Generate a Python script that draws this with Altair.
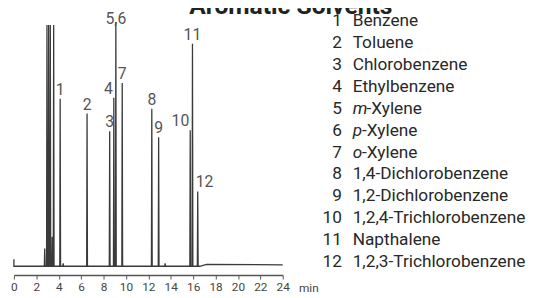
import altair as alt
import numpy as np
import pandas as pd

# ---- data ----
peak_labels = ["1", "2", "3", "4", "5,6", "7", "8", "9", "10", "11", "12"]
peak_times = [4.13, 6.53, 8.55, 8.92, 9.10, 9.67, 12.31, 12.92, 15.74, 15.94, 16.41]
peak_heights = [170, 155, 137, 171, 248, 186, 160, 131, 138, 226, 76]
label_side = ["c", "c", "c", "l", "top", "c", "c", "c", "l", "c", "r"]

other_times = [2.75, 2.95, 3.10, 3.25, 3.42, 3.55, 4.40, 13.50]
other_heights = [18, 245, 245, 245, 30, 245, 3, 3]

baseline_times = [0, 16.6, 17.2, 24]
baseline_levels = [0, 0, 2, 1.5]

x_ticks = list(range(0, 25, 2))

legend_nums = [str(i) for i in range(1, 13)]
legend_names = ["Benzene", "Toluene", "Chlorobenzene", "Ethylbenzene",
                "m-Xylene", "p-Xylene", "o-Xylene", "1,4-Dichlorobenzene",
                "1,2-Dichlorobenzene", "1,2,4-Trichlorobenzene", "Napthalene",
                "1,2,3-Trichlorobenzene"]
title_text = "Aromatic Solvents"

# ---- build chromatogram trace ----
W = 0.035
rows = [(0.0, 7.0), (0.0, 0.0)]
events = []
for t, lv in zip(baseline_times, baseline_levels):
    events.append((t, [(t, lv)]))
for t, h in zip(list(peak_times) + other_times, list(peak_heights) + other_heights):
    b = float(np.interp(t, baseline_times, baseline_levels))
    events.append((t, [(t - W, b), (t, b + h), (t + W, b)]))
events.sort(key=lambda e: e[0])
for _, pts in events:
    rows.extend(pts)
trace = pd.DataFrame(rows, columns=["t", "y"])
trace["i"] = range(len(trace))

peaks = pd.DataFrame({
    "lab": peak_labels,
    "t": peak_times,
    "top": [h + float(np.interp(t, baseline_times, baseline_levels)) for t, h in zip(peak_times, peak_heights)],
    "side": label_side,
})

idx = list(range(1, 13))
leg = pd.DataFrame({"num": legend_nums, "name": legend_names, "idx": idx})
leg["ital"] = leg["name"].str.match(r"^[mpo]-")
leg["pre"] = np.where(leg["ital"], leg["name"].str[0], "")
leg["rest"] = np.where(leg["ital"], leg["name"].str[1:], leg["name"])

FONT = "Roboto"
LFS = 17.5

x_axis = alt.Axis(values=x_ticks, grid=False, offset=9, domainColor="#555", domainWidth=1.5,
                  tickColor="#555", tickSize=4, tickWidth=1, labelFont=FONT, labelFontSize=12,
                  labelColor="#444", labelPadding=3, labelFlush=False,
                  title="min", titleX=289, titleY=16.5, titleAlign="left",
                  titleBaseline="alphabetic", titleFont=FONT, titleFontSize=12,
                  titleFontWeight="normal", titleColor="#444")
xs = alt.Scale(domain=[0, 24], nice=False, zero=False)
ys = alt.Scale(domain=[0, 260], nice=False, zero=True)

def X(field):
    return alt.X(field, type="quantitative", scale=xs, axis=x_axis)

def Y(field):
    return alt.Y(field, type="quantitative", scale=ys, axis=None)

line = alt.Chart(trace).mark_line(color="#3a3a3a", strokeWidth=1.3, interpolate="linear").encode(
    x=X("t"), y=Y("y"), order="i:Q")

def peak_text(side, align, dx, dy):
    return alt.Chart(peaks).transform_filter(alt.datum.side == side).mark_text(
        font=FONT, fontSize=16, color="#555", align=align, baseline="alphabetic", dy=dy, dx=dx
    ).encode(x=X("t"), y=Y("top"), text="lab:N")

lab_c = peak_text("c", "center", 0, -4)
lab_t = peak_text("top", "center", 0, 2)
lab_l = peak_text("l", "right", -1, -4)
lab_r = peak_text("r", "left", -2, -4)

ly = alt.Y("idx:O", scale=alt.Scale(type="point", domain=idx, range=[11, 256], padding=0), axis=None)

def leg_text(data_filter, field, x, dx=0, style="normal"):
    c = alt.Chart(leg)
    if data_filter is not None:
        c = c.transform_filter(data_filter)
    return c.mark_text(font=FONT, fontSize=LFS, fontStyle=style, color="#282828",
                       align="right" if field == "num" else "left", baseline="middle", dx=dx
                       ).encode(x=alt.value(x), y=ly, text=f"{field}:N")

NX = 333
TX = 344
leg_num = leg_text(None, "num", NX)
leg_name = leg_text("!datum.ital", "rest", TX)
leg_pre = leg_text("datum.ital", "pre", TX, style="italic")
leg_rest_m = leg_text("datum.ital && datum.pre == 'm'", "rest", TX, dx=14)
leg_rest_po = leg_text("datum.ital && datum.pre != 'm'", "rest", TX, dx=9.5)

title = alt.Chart(pd.DataFrame({"t": [title_text]})).mark_text(
    font=FONT, fontSize=25, fontWeight="bold", color="#222", align="left", baseline="alphabetic"
).encode(x=alt.value(178), y=alt.value(3.5), text="t:N")

chart = alt.layer(line, lab_c, lab_t, lab_l, lab_r, leg_num, leg_name, leg_pre, leg_rest_m,
                  leg_rest_po, title).resolve_scale(y="independent").properties(
    width=273, height=260,
    padding={"left": 6, "top": 0, "right": 247, "bottom": 30},
    autosize=alt.AutoSizeParams(type="none"),
).configure_view(stroke=None)

chart.save("out.html", embed_options={"renderer": "svg", "actions": False})
